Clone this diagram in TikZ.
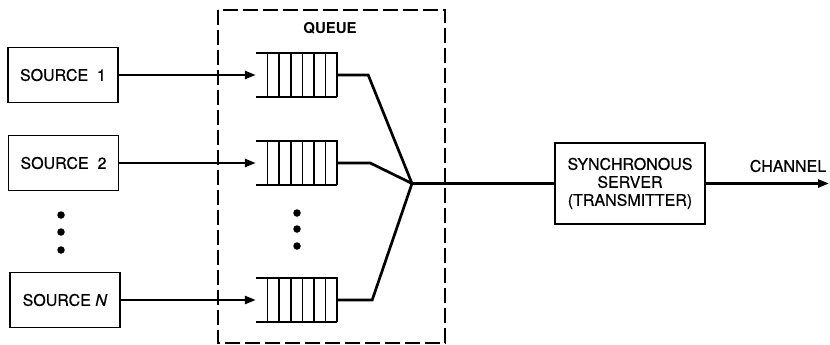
\documentclass[tikz,border=0pt]{standalone}
\usepackage{fontspec}
\setmainfont{TeX Gyre Heros}
\newfontfamily\labelfont{TeX Gyre Heros}[FakeBold=0.5]
\usetikzlibrary{arrows.meta,calc}
\begin{document}
\begin{tikzpicture}[x=1pt,y=-1pt,
  lbl/.style={font=\labelfont\fontsize{16}{18}\selectfont},
  box/.style={draw,line width=1.6pt,inner sep=0pt,lbl,align=center},
  srcbox/.style={box,minimum width=110pt,minimum height=55pt},
  queue/.style={draw=none,inner sep=0pt,minimum width=81pt,minimum height=43pt},
  feed/.style={line width=2.5pt,-{Triangle[length=11pt,width=8pt]}},
  link/.style={line width=2.7pt,line join=miter},
  slot/.style={line width=1.7pt},
  vdot/.style={circle,fill,inner sep=0pt,minimum size=7.5pt},
  frame/.style={line width=1.4pt,dash pattern=on 15pt off 5pt}]
\useasboundingbox (0,0) rectangle (830,345);

% queue enclosure
\draw[frame] (218,10) rectangle (445,343);
\node[font=\bfseries\fontsize{15}{17}\selectfont] (qlabel) at (330,28) {QUEUE};

% sources
\node[srcbox] (s1) at (63,75) {SOURCE\ \ 1};
\node[srcbox] (s2) at (63.5,163) {SOURCE\ \ 2};
\node[srcbox] (sn) at (65,300) {SOURCE \textit{N}};
\node[vdot] (sd1) at (61,215) {};
\node[vdot] (sd2) at (61,232) {};
\node[vdot] (sd3) at (61,250) {};

% buffers
\node[queue] (q1) at (296.5,75) {};
\node[queue] (q2) at (296.5,163) {};
\node[queue] (qn) at (296.5,300) {};
\foreach \q in {q1,q2,qn}{
  \draw[slot] (\q.north west) -- (\q.north east) -- (\q.south east);
  \draw[slot] (\q.south west) -- (\q.south east);
  \foreach \k in {1,...,6}
    \draw[slot] ($(\q.north east)+(-11.6*\k,0)$) -- ($(\q.south east)+(-11.6*\k,0)$);
}
\node[vdot] (qd1) at (297,213) {};
\node[vdot] (qd2) at (297,229) {};
\node[vdot] (qd3) at (297,246) {};

% server
\node[box,minimum width=150pt,minimum height=81pt] (srv) at (630,183.5)
  {SYNCHRONOUS\\SERVER\\(TRANSMITTER)};
\node[lbl] (chlabel) at (788,166) {CHANNEL};

\coordinate (m) at (412,183.5);
\coordinate (chan) at (829,183.5);

% connectors
\draw[feed] (s1.east) -- (q1.west);
\draw[feed] (s2.east) -- (q2.west);
\draw[feed] (sn.east) -- (qn.west);
\draw[link] (q1.east) -- ++(31,0) -- (m);
\draw[link] (q2.east) -- ++(33,0) -- (m);
\draw[link] (qn.east) -- ++(35,0) -- (m);
\draw[link] (m) -- (srv.west);
\draw[feed] (srv.east) -- (chan);
\end{tikzpicture}
\end{document}
